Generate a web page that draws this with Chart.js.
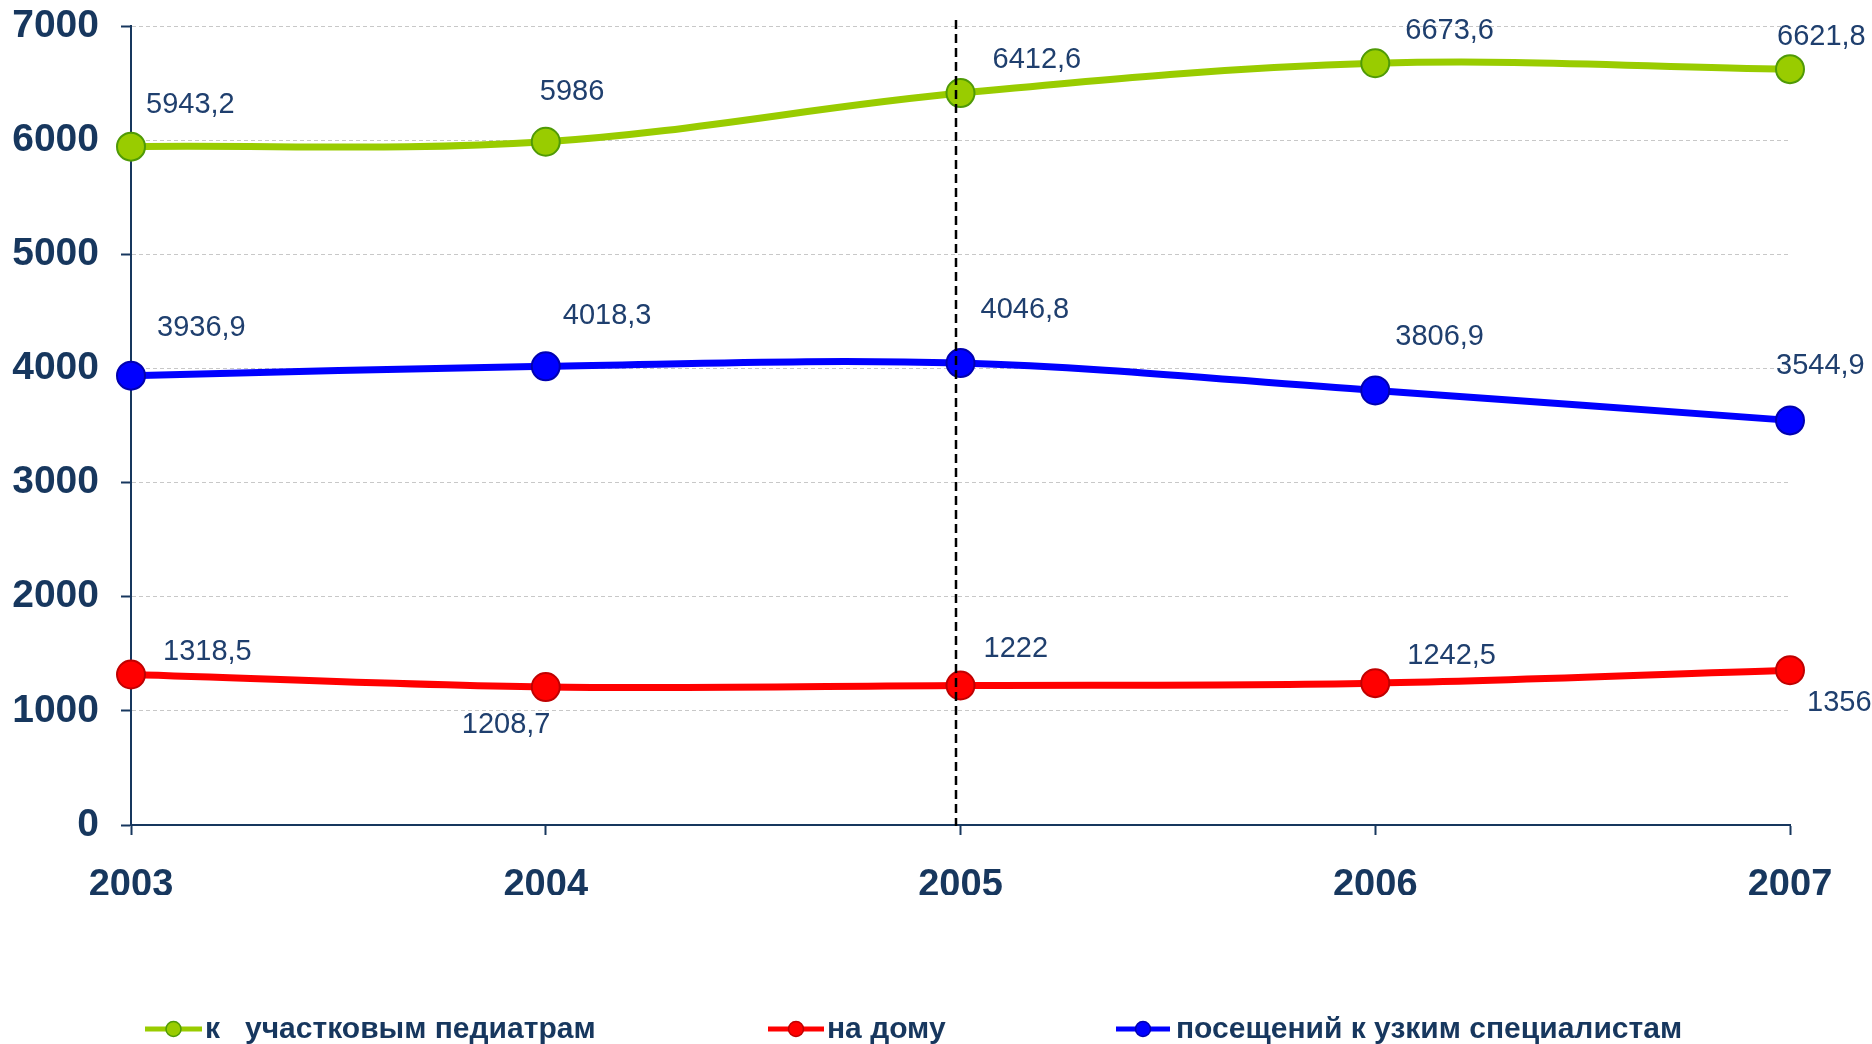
<!DOCTYPE html>
<html lang="ru">
<head>
    <meta charset="UTF-8">
    <title>Посещения 2003–2007</title>
    <script src="https://cdn.jsdelivr.net/npm/chart.js@4/dist/chart.umd.min.js"></script>
    <style>
        html, body { margin: 0; padding: 0; background: #ffffff; }
        .wrap { width: 1872px; height: 1044px; position: relative; }
    </style>
</head>
<body>
    <div class="wrap">
        <canvas id="visitsChart"></canvas>
    </div>

    <script>
        // data
        const years = ['2003', '2004', '2005', '2006', '2007'];
        const pediatrians = [5943.2, 5986, 6412.6, 6673.6, 6621.8];
        const homeVisits = [1318.5, 1208.7, 1222, 1242.5, 1356];
        const specialists = [3936.9, 4018.3, 4046.8, 3806.9, 3544.9];
        const seriesNames = ['к   участковым педиатрам', 'на дому', 'посещений к узким специалистам'];

        const NAVY = '#17375e';
        const LABEL = '#1f3f6e';

        // where each value label sits relative to its point (px)
        const labelOffsets = [
            [[15, -42], [-6, -50], [32, -33], [30, -32], [-13, -32]],
            [[32, -23], [-84, 38], [23, -37], [32, -27], [17, 33]],
            [[26, -48], [17, -50], [20, -53], [20, -53], [-14, -54]]
        ];

        const valueLabels = {
            id: 'valueLabels',
            afterDatasetsDraw(chart) {
                const ctx = chart.ctx;
                // dashed marker at 2005
                const xs = chart.scales.x;
                const x5 = Math.round(xs.getPixelForValue(2)) - 5;
                ctx.save();
                ctx.strokeStyle = '#000000';
                ctx.lineWidth = 2.5;
                ctx.setLineDash([9, 5]);
                ctx.beginPath();
                ctx.moveTo(x5, 20);
                ctx.lineTo(x5, chart.chartArea.bottom + 1);
                ctx.stroke();
                ctx.restore();

                ctx.save();
                ctx.font = '29px "Liberation Sans", Arial, sans-serif';
                ctx.fillStyle = LABEL;
                ctx.textAlign = 'left';
                ctx.textBaseline = 'middle';
                chart.data.datasets.forEach((ds, di) => {
                    const meta = chart.getDatasetMeta(di);
                    meta.data.forEach((pt, i) => {
                        const off = labelOffsets[di][i];
                        const txt = String(ds.data[i]).replace('.', ',');
                        ctx.fillText(txt, pt.x + off[0], pt.y + off[1]);
                    });
                });
                ctx.restore();
            }
        };

        // legend: line + dot marker, placed like the original
        const legendSpots = [[145, 202, 205], [768, 824, 827], [1116, 1170, 1176]];
        const bottomLegend = {
            id: 'bottomLegend',
            afterDraw(chart) {
                const ctx = chart.ctx;
                const y = 1029;
                ctx.save();
                chart.data.datasets.forEach((ds, i) => {
                    const [a, b, t] = legendSpots[i];
                    ctx.strokeStyle = ds.borderColor;
                    ctx.lineWidth = 5;
                    ctx.beginPath();
                    ctx.moveTo(a, y);
                    ctx.lineTo(b, y);
                    ctx.stroke();
                    ctx.beginPath();
                    ctx.arc((a + b) / 2, y, 7.5, 0, Math.PI * 2);
                    ctx.fillStyle = ds.pointBackgroundColor;
                    ctx.fill();
                    ctx.lineWidth = 1.5;
                    ctx.strokeStyle = ds.pointBorderColor;
                    ctx.stroke();
                    ctx.fillStyle = NAVY;
                    ctx.font = 'bold 30px "Liberation Sans", Arial, sans-serif';
                    ctx.textAlign = 'left';
                    ctx.textBaseline = 'middle';
                    ctx.fillText(ds.label, t, y + 1);
                });
                ctx.restore();
            }
        };

        function series(label, data, line, fill, edge) {
            return {
                label: label,
                data: data,
                borderColor: line,
                borderWidth: 7,
                tension: 0.35,
                pointRadius: 14,
                pointHoverRadius: 14,
                pointBackgroundColor: fill,
                pointBorderColor: edge,
                pointBorderWidth: 2
            };
        }

        new Chart(document.getElementById('visitsChart'), {
            type: 'line',
            data: {
                labels: years,
                datasets: [
                    series(seriesNames[0], pediatrians, '#99cc00', '#99cc00', '#4f9a06'),
                    series(seriesNames[1], homeVisits, '#ff0000', '#ff0000', '#c00000'),
                    series(seriesNames[2], specialists, '#0000ff', '#0000ff', '#0000b0')
                ]
            },
            options: {
                responsive: true,
                maintainAspectRatio: false,
                animation: false,
                layout: { padding: { top: 26, right: 82, bottom: 149, left: 0 } },
                plugins: { legend: { display: false }, tooltip: { enabled: false } },
                scales: {
                    x: {
                        offset: false,
                        grid: { drawOnChartArea: false, drawTicks: true, tickLength: 10, tickColor: NAVY, tickWidth: 2 },
                        border: { color: NAVY, width: 2 },
                        ticks: {
                            color: NAVY,
                            padding: 28,
                            maxRotation: 0,
                            font: { family: '"Liberation Sans", Arial, sans-serif', size: 38, weight: 'bold' }
                        },
                        afterFit(scale) { scale.height = 70; scale.paddingLeft = 0; scale.paddingRight = 0; }
                    },
                    y: {
                        min: 0,
                        max: 7000,
                        grid: { color: '#c8c8c8', lineWidth: 1, tickLength: 10, tickColor: NAVY, tickWidth: 2 },
                        border: { color: NAVY, width: 2, dash: [4, 3] },
                        ticks: {
                            stepSize: 1000,
                            color: NAVY,
                            padding: 22,
                            font: { family: '"Liberation Sans", Arial, sans-serif', size: 39, weight: 'bold' },
                            callback: (v) => String(v)
                        },
                        afterFit(scale) { scale.width = 131; scale.paddingTop = 0; scale.paddingBottom = 0; }
                    }
                }
            },
            plugins: [valueLabels, bottomLegend]
        });
    </script>
</body>
</html>
